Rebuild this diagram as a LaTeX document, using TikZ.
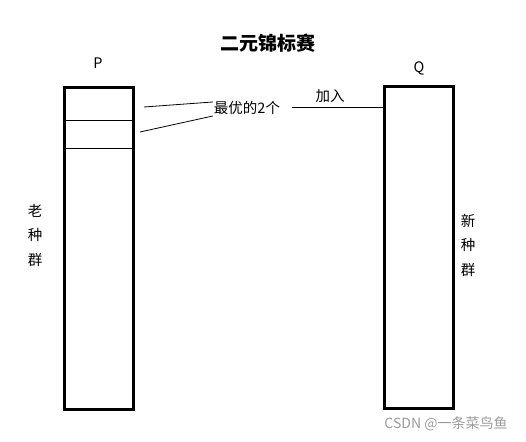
\documentclass[tikz,border=0pt]{standalone}
\usepackage{fontspec}
\usepackage{tikz}
\usetikzlibrary{positioning,calc}
\newfontfamily\cjk{Noto Sans CJK SC}
\definecolor{mark}{HTML}{9a9a9a}

\begin{document}
\begin{tikzpicture}[
  x=1pt, y=-1pt,
  popbox/.style={draw, line width=3pt, minimum width=69pt, minimum height=322pt, inner sep=0pt},
  lbl/.style={font=\cjk\fontsize{14.5}{16}\selectfont, inner sep=1pt},
  vlbl/.style={font=\cjk\fontsize{14.5}{24.5}\selectfont, align=center, inner sep=0pt},
  ln/.style={line width=0.8pt}
]
\useasboundingbox (0,0) rectangle (526,441);
\node[font=\cjk\bfseries\fontsize{19}{21}\selectfont] (title) at (268,43) {二元锦标赛};
\node[popbox] (P) at (98.5,248.5) {};
\node[popbox] (Q) at (419,247.5) {};
\node[lbl] (plab) at (98,63) {P};
\node[lbl] (qlab) at (419,68) {Q};
\node[vlbl] (old) at (35,235) {老\\种\\群};
\node[vlbl] (new) at (468,245) {新\\种\\群};
\node[lbl] (best) at (247,108) {最优的2个};
\node[lbl, anchor=south] (join) at (330,104) {加入};
\node[font=\cjk\fontsize{14}{16}\selectfont, text=mark] (csdn) at (446,424) {CSDN @一条菜鸟鱼};
% slots in P
\draw[ln] (P.west |- 0,120) -- (P.east |- 0,120);
\draw[ln] (P.west |- 0,148) -- (P.east |- 0,148);
% picked two
\coordinate (s1) at (144,107);
\coordinate (s2) at (140,132);
\draw[ln] (s1) -- (best.west |- 0,102);
\draw[ln] (s2) -- (best.west |- 0,116);
\draw[ln] (292,107) -- (Q.west |- 0,107);
\end{tikzpicture}
\end{document}
